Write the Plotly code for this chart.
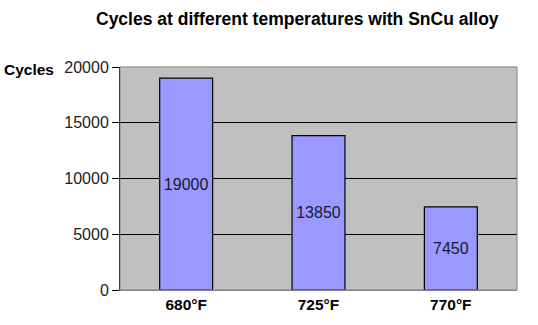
import plotly.graph_objects as go

categories = ["680°F", "725°F", "770°F"]
cycles = [19000, 13850, 7450]
y_ticks = [0, 5000, 10000, 15000, 20000]
title_text = "Cycles at different temperatures with SnCu alloy"
y_label = "Cycles"

FONT = "Arial, Liberation Sans, sans-serif"

W, H = 538, 325
ML, MR, MT, MB = 120, 21, 67, 35
PW = W - ML - MR
PH = H - MT - MB


def px_x(x):
    return (x - ML) / PW


def px_y(y):
    return 1 - (y - MT) / PH


fig = go.Figure()
fig.add_trace(go.Bar(
    x=categories,
    y=cycles,
    width=0.4,
    marker=dict(color="#9999FF", line=dict(color="#000000", width=1.2)),
    text=[str(v) for v in cycles],
    textposition="inside",
    insidetextanchor="middle",
    textangle=0,
    textfont=dict(family=FONT, size=16, color="#1a1a2a"),
    hoverinfo="skip",
))

fig.update_layout(
    width=W, height=H,
    margin=dict(l=ML, r=MR, t=MT, b=MB),
    paper_bgcolor="#FFFFFF",
    plot_bgcolor="#C0C0C0",
    showlegend=False,
    bargap=0.6,
    font=dict(family=FONT, color="#000000"),
    annotations=[
        dict(text="<b>" + title_text + "</b>", x=px_x(297), y=px_y(19),
             xref="paper", yref="paper",
             xanchor="center", yanchor="middle", showarrow=False,
             font=dict(family=FONT, size=17.5, color="#000000")),
        dict(text="<b>" + y_label + "</b>", x=px_x(2), y=px_y(69),
             xref="paper", yref="paper",
             xanchor="left", yanchor="middle",
             showarrow=False, font=dict(family=FONT, size=15.5, color="#000000")),
    ],
    shapes=[
        dict(type="rect", xref="x domain", yref="y domain", x0=0, x1=1, y0=0, y1=1,
             line=dict(color="#808080", width=1), layer="above"),
    ],
)

fig.update_xaxes(
    showgrid=False, showline=True, linecolor="#808080", linewidth=1,
    ticks="", tickfont=dict(family=FONT, size=15.5, color="#000000"),
    tickprefix="<b>", ticksuffix="</b>", zeroline=False,
)
fig.update_yaxes(
    range=[0, 20000], tickvals=y_ticks, ticktext=[str(t) for t in y_ticks],
    showgrid=True, gridcolor="#000000", gridwidth=1,
    showline=True, linecolor="#000000", linewidth=1,
    ticks="outside", ticklen=7, tickcolor="#000000", tickwidth=1,
    tickfont=dict(family=FONT, size=16, color="#222222"),
    zeroline=False,
)

fig.write_html("out.html")
